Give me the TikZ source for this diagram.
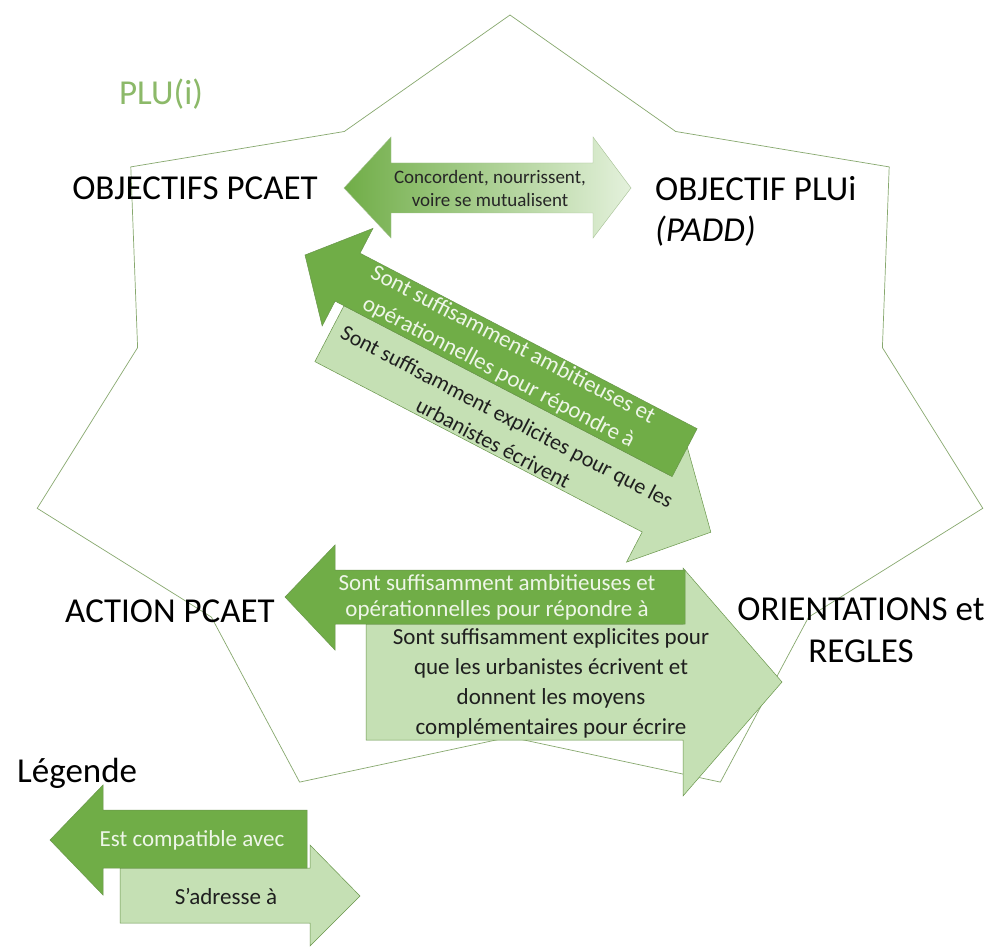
\documentclass[tikz,border=0pt]{standalone}
\usepackage{fontspec}
\setmainfont{Carlito}
\definecolor{dkg}{RGB}{112,173,71}
\definecolor{ltg}{RGB}{197,224,180}
\definecolor{pale}{RGB}{228,241,220}
\definecolor{edgeg}{RGB}{105,150,75}
\definecolor{starc}{RGB}{135,168,110}
\definecolor{plu}{RGB}{140,185,105}
\definecolor{dktxt}{RGB}{238,246,232}
\begin{document}
\begin{tikzpicture}[x=1pt,y=-1pt,
  big/.style={font=\fontsize{35}{42}\selectfont, inner sep=0pt, text=black},
  dkarrow/.style={fill=dkg, draw=edgeg, line width=0.5pt, line join=miter},
  ltarrow/.style={fill=ltg, draw=edgeg, line width=0.5pt, line join=miter},
  wtxt/.style={font=\fontsize{23}{26}\selectfont, text=dktxt, align=center, inner sep=0pt},
  btxt/.style={font=\fontsize{23}{30}\selectfont, text=black!88, align=center, inner sep=0pt},
  starline/.style={draw=starc, line width=0.7pt, line join=miter}]
\fill[white] (0,0) rectangle (989,947);
\useasboundingbox (0,0) rectangle (989,947);

% star outline
\path[starline] (510,15) -- (675.7,131.5) -- (889.2,166.9) -- (882.4,347.6) -- (982.8,508.3)
  -- (808.6,617.1) -- (720.4,782.1) -- (510,737) -- (299.6,782.1) -- (211.4,617.1)
  -- (37.2,508.3) -- (137.6,347.6) -- (130.8,166.9) -- (344.3,131.5) -- cycle;

% labels
\node[big, text=plu, anchor=base] (plu) at (161,105) {PLU(i)};
\node[big, anchor=base] (objp) at (195,200) {OBJECTIFS PCAET};
\node[big, anchor=base west] (objl) at (655,201) {OBJECTIF PLUi};
\node[big, anchor=base west] (padd) at (655,241) {\itshape (PADD)};
\node[big, anchor=base] (act) at (170,622) {ACTION PCAET};
\node[big, anchor=base] (ori) at (861,620) {ORIENTATIONS et};
\node[big, anchor=base] (reg) at (861,662) {REGLES};
\node[big, anchor=base west] (leg) at (17,782) {Légende};

% top double arrow
\path[left color=dkg, right color=pale, draw=edgeg!60, line width=0.4pt, line join=miter]
  (344,188) -- (391,137) -- (391,163) -- (593,163) -- (593,137) -- (631,188)
  -- (593,238) -- (593,213) -- (391,213) -- (391,238) -- cycle;
\node[font=\fontsize{19}{23}\selectfont, align=center, inner sep=0pt, text=black!85] (conc) at (490,188)
  {Concordent, nourrissent,\\voire se mutualisent};

% diagonal pair
\begin{scope}[shift={(305,255)}, rotate=-27.5]
  \path[ltarrow] (58,27) -- (427,27) -- (427,-7) -- (488,58.5) -- (427,124) -- (427,90) -- (58,90) -- cycle;
  \path[dkarrow] (0,0) -- (48,-55) -- (48,-27) -- (428,-27) -- (428,27) -- (48,27) -- (48,55) -- cycle;
  \node[wtxt, font=\fontsize{23}{31}\selectfont, rotate=-27.5] (dtxt) at (226,-0.5)
    {Sont suffisamment ambitieuses et\\opérationnelles pour répondre à};
  \node[btxt, font=\fontsize{22}{30}\selectfont, rotate=-27.5] (ltxt) at (254,65)
    {Sont suffisamment explicites pour que les\\urbanistes écrivent};
\end{scope}

% bottom horizontal pair
\path[ltarrow] (366,624) -- (683,624) -- (683,568) -- (782,682) -- (683,796) -- (683,740) -- (366,740) -- cycle;
\path[dkarrow] (285,597) -- (335,545) -- (335,570) -- (685,570) -- (685,624) -- (335,624) -- (335,650) -- cycle;
\node[wtxt] (btxt1) at (497,597) {Sont suffisamment ambitieuses et\\opérationnelles pour répondre à};
\node[btxt] (btxt2) at (551,683) {Sont suffisamment explicites pour\\que les urbanistes écrivent et\\donnent les moyens\\complémentaires pour écrire};

% legend
\path[ltarrow] (120,868) -- (310,868) -- (310,845) -- (360,896) -- (310,946) -- (310,923) -- (120,923) -- cycle;
\path[dkarrow] (50,840) -- (103,785) -- (103,810) -- (307,810) -- (307,868) -- (103,868) -- (103,895) -- cycle;
\node[wtxt] (lg1) at (192,840) {Est compatible avec};
\node[btxt] (lg2) at (226,896) {S’adresse à};
\end{tikzpicture}
\end{document}
